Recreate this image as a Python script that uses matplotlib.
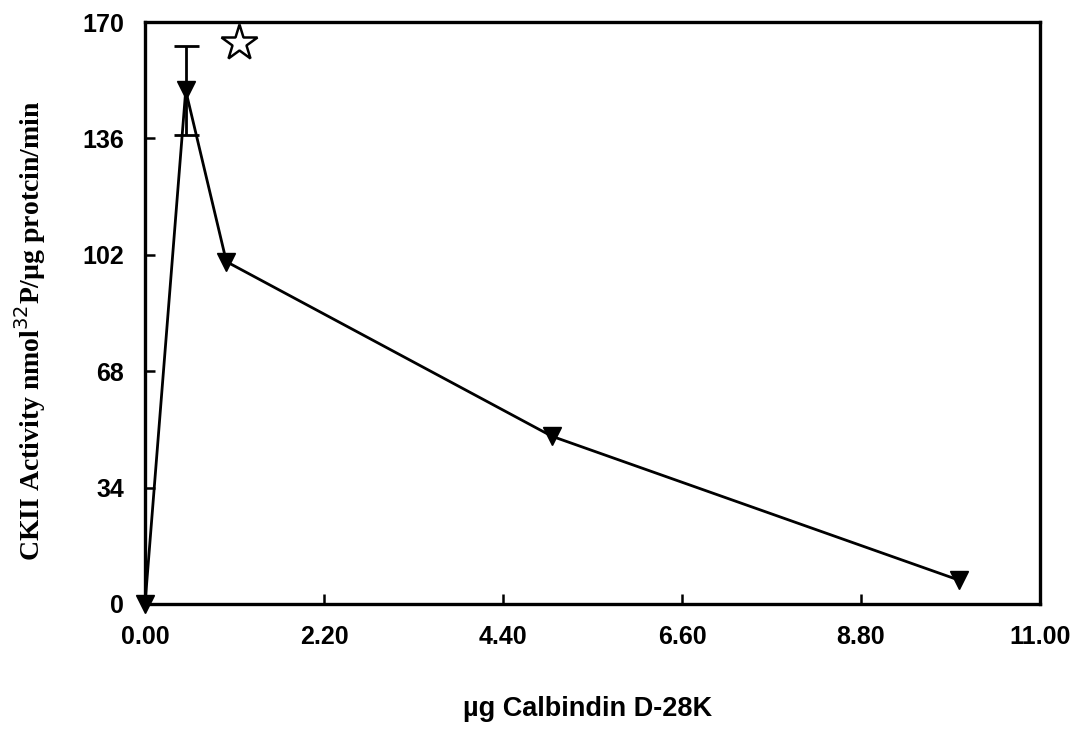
import matplotlib
matplotlib.use("Agg")
import matplotlib.pyplot as plt

x_vals = [0.0, 0.5, 1.0, 5.0, 10.0]
y_vals = [0.0, 150.0, 100.0, 49.0, 7.0]
y_err = [0.0, 13.0, 0.0, 0.0, 0.0]
x_ticks = [0.0, 2.2, 4.4, 6.6, 8.8, 11.0]
y_ticks = [0, 34, 68, 102, 136, 170]
star_pos = (1.15, 164.0)

fig = plt.figure(figsize=(10.88, 7.39), dpi=100)
ax = fig.add_axes([0.1333, 0.1827, 0.8226, 0.7875])

ax.plot(x_vals, y_vals, color='black', lw=2, marker='v', markersize=13,
        markerfacecolor='black', markeredgecolor='black', zorder=3, clip_on=False)
ax.errorbar([x_vals[1]], [y_vals[1]], yerr=[[y_err[1]], [y_err[1]]], fmt='none',
            ecolor='black', elinewidth=2, capsize=9, capthick=2, zorder=2)
ax.plot([star_pos[0]], [star_pos[1]], marker='*', markersize=27, markerfacecolor='white',
        markeredgecolor='black', markeredgewidth=1.8, clip_on=False, zorder=4)

ax.set_xlim(0, 11)
ax.set_ylim(0, 170)
ax.set_xticks(x_ticks)
ax.set_xticklabels(['%.2f' % v for v in x_ticks])
ax.set_yticks(y_ticks)
ax.set_yticklabels([str(v) for v in y_ticks])

for s in ax.spines.values():
    s.set_linewidth(2.4)
ax.tick_params(axis='both', direction='in', length=7, width=1.8)
ax.tick_params(axis='y', pad=15)
ax.tick_params(axis='x', pad=15)
for lab in ax.get_xticklabels() + ax.get_yticklabels():
    lab.set_fontfamily('Liberation Sans')
    lab.set_fontweight('bold')
    lab.set_fontsize(18)

fig.text(0.54, 0.04, 'µg Calbindin D-28K', ha='center', va='center',
         fontfamily='Liberation Sans', fontweight='bold', fontsize=19.5)
fig.text(0.028, 0.553, 'CKII Activity nmol$^{32}$P/µg protcin/min', rotation=90,
         ha='center', va='center', fontfamily='Liberation Serif', fontweight='bold', fontsize=20)

fig.savefig('out.png', dpi=100)
